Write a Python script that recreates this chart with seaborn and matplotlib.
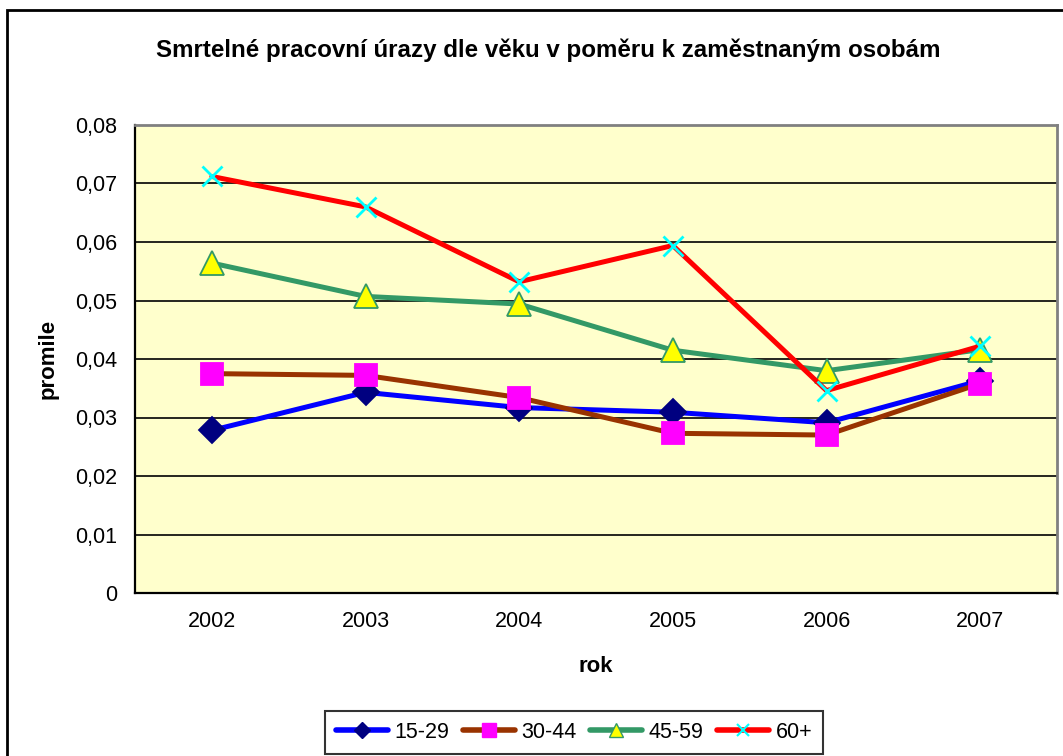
import numpy as np
import pandas as pd
import seaborn as sns
import matplotlib.pyplot as plt
from matplotlib.patches import Rectangle
from matplotlib.lines import Line2D

# Data (promile)
years = [2002, 2003, 2004, 2005, 2006, 2007]
age_15_29 = [0.0278, 0.0343, 0.0317, 0.0309, 0.0291, 0.0363]
age_30_44 = [0.0375, 0.0372, 0.0334, 0.0273, 0.0270, 0.0358]
age_45_59 = [0.0564, 0.0507, 0.0494, 0.0415, 0.0380, 0.0416]
age_60_plus = [0.0712, 0.0660, 0.0532, 0.0594, 0.0346, 0.0422]
series_names = ['15-29', '30-44', '45-59', '60+']
y_ticks = [0, 0.01, 0.02, 0.03, 0.04, 0.05, 0.06, 0.07, 0.08]

df = pd.DataFrame({'rok': years, '15-29': age_15_29, '30-44': age_30_44,
                   '45-59': age_45_59, '60+': age_60_plus})
df_long = df.melt(id_vars='rok', var_name='vek', value_name='promile')

sns.set_style('white')
plt.rcParams['font.family'] = ['Liberation Sans', 'DejaVu Sans']
plt.rcParams['text.color'] = 'black'
plt.rcParams['axes.labelcolor'] = 'black'
plt.rcParams['xtick.color'] = 'black'
plt.rcParams['ytick.color'] = 'black'

# line colour, marker, marker face, marker edge, marker size
styles = {
    '15-29': dict(color='#0000FF', marker='D', mfc='#000080', mec='#000080', ms=13.5),
    '30-44': dict(color='#993300', marker='s', mfc='#FF00FF', mec='#FF00FF', ms=16),
    '45-59': dict(color='#339966', marker='^', mfc='#FFFF00', mec='#339966', ms=17),
    '60+': dict(color='#FF0000', marker='x', mfc='#00FFFF', mec='#00FFFF', ms=15),
}

fig = plt.figure(figsize=(10.63, 7.56), dpi=100)
ax = fig.add_axes([135 / 1063, 1 - 593 / 756, 922 / 1063, 468 / 756])
ax.set_facecolor('#FFFFCC')

for name in series_names:
    st = styles[name]
    sub = df_long[df_long['vek'] == name]
    sns.lineplot(data=sub, x='rok', y='promile', ax=ax, color=st['color'],
                 linewidth=3.6, marker=st['marker'], markersize=st['ms'],
                 markerfacecolor=st['mfc'], markeredgecolor=st['mec'],
                 markeredgewidth=2 if st['marker'] == 'x' else 1.3,
                 legend=False, zorder=3)

ax.set_xlim(years[0] - 0.5, years[-1] + 0.5)
ax.set_ylim(0, 0.08)

# y axis
ax.set_yticks(y_ticks)
ax.set_yticklabels([('%g' % v).replace('.', ',') if v else '0' for v in y_ticks])
ax.yaxis.grid(True, color='black', linewidth=1.2)
ax.set_axisbelow(True)

# x axis: tick marks between categories, labels at categories
ax.set_xticks([y - 0.5 for y in years] + [years[-1] + 0.5])
ax.set_xticklabels([])
ax.set_xticks(years, minor=True)
ax.set_xticklabels([str(y) for y in years], minor=True)
ax.tick_params(axis='x', which='major', direction='out', length=5, width=1.2, color='black')
ax.tick_params(axis='x', which='minor', length=0, pad=13, labelsize=15.5)
ax.tick_params(axis='y', direction='out', length=5, width=1.2, color='black', pad=8, labelsize=15.5)
ax.xaxis.grid(False)

for side in ['left', 'bottom']:
    ax.spines[side].set_color('black')
    ax.spines[side].set_linewidth(1.6)
for side in ['top', 'right']:
    ax.spines[side].set_color('#808080')
    ax.spines[side].set_linewidth(2)

ax.set_xlabel('rok', fontsize=16, fontweight='bold', labelpad=17)
ax.set_ylabel('promile', fontsize=16, fontweight='bold', labelpad=12)

fig.text(548 / 1063, 1 - 50 / 756, 'Smrtelné pracovní úrazy dle věku v poměru k zaměstnaným osobám',
         ha='center', va='center', fontsize=17.4, fontweight='bold')

# legend
handles = []
for name in series_names:
    st = styles[name]
    handles.append(Line2D([], [], color=st['color'], linewidth=4, marker=st['marker'],
                          markersize=st['ms'] * 0.62, markerfacecolor=st['mfc'],
                          markeredgecolor=st['mec'], markeredgewidth=1.5 if st['marker'] == 'x' else 1))
leg = fig.legend(handles, series_names, loc='upper center', bbox_to_anchor=(574 / 1063, 1 - 711 / 756),
                 ncol=4, fontsize=15.5, frameon=True, fancybox=False, edgecolor='black',
                 handlelength=2.4, handletextpad=0.3, columnspacing=0.65, borderpad=0.5,
                 borderaxespad=0)
leg.get_frame().set_linewidth(1.5)

# outer chart border
fig.patches.append(Rectangle((7 / 1063, -0.05), 1.2, 1 - 10 / 756 + 0.05, transform=fig.transFigure,
                             fill=False, edgecolor='black', linewidth=2))

fig.savefig('out.png', dpi=100)
